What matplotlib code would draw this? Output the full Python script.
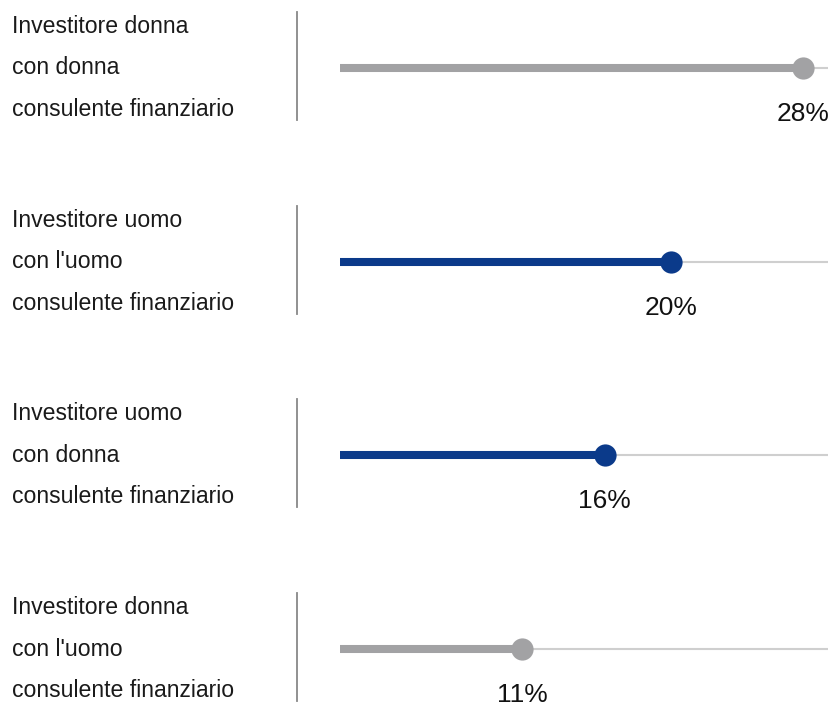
import matplotlib.pyplot as plt
from matplotlib.transforms import blended_transform_factory

plt.rcParams['font.family'] = ['Liberation Sans', 'DejaVu Sans']

labels = [
    ["Investitore donna", "con donna", "consulente finanziario"],
    ["Investitore uomo", "con l'uomo", "consulente finanziario"],
    ["Investitore uomo", "con donna", "consulente finanziario"],
    ["Investitore donna", "con l'uomo", "consulente finanziario"],
]
values = [28, 20, 16, 11]
colors = ["#a2a2a4", "#0b3a8a", "#0b3a8a", "#a2a2a4"]

W, H = 829, 707
fig = plt.figure(figsize=(W / 100, H / 100), dpi=100)
ax = fig.add_axes([340 / W, 0, 1 - 340 / W, 1])
ax.set_xlim(0, 29.57)
ax.set_ylim(3.299, -0.351)
ax.axis("off")

px = 1 / 193.67  # one pixel in row units
lab_tr = blended_transform_factory(fig.transFigure, ax.transData)

for i, (lines, v, c) in enumerate(zip(labels, values, colors)):
    ax.plot([v, 29.57], [i, i], color="#cfcfcf", lw=1.5, solid_capstyle="butt", zorder=1)
    ax.plot([0, v], [i, i], color=c, lw=5.8, solid_capstyle="butt", zorder=2)
    ax.plot([v], [i], "o", color=c, ms=16, mec="none", zorder=3)
    ax.annotate(f"{v}%", (v, i), xytext=(0, -33), textcoords="offset points",
                ha="center", va="center", fontsize=19, color="#111111")
    for k, t in enumerate(lines):
        ax.text(12 / W, i + (k - 1) * 41.5 * px, t, transform=lab_tr,
                ha="left", va="center", fontsize=16.6, color="#1a1a1a")
    ax.plot([297 / W, 297 / W], [i - 56 * px, i + 52 * px], transform=lab_tr,
            color="#888888", lw=1.3, clip_on=False)

fig.savefig("out.png", dpi=100)
